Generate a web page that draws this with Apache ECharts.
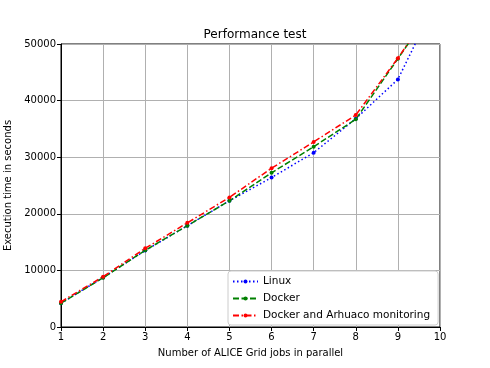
<!DOCTYPE html>
<html>
<head>
<meta charset="utf-8">
<script src="https://cdn.jsdelivr.net/npm/echarts@6/dist/echarts.min.js"></script>
<style>
  html, body { margin: 0; padding: 0; background: #fff; }
  #chart { width: 490px; height: 368px; }
</style>
</head>
<body>
<div id="chart"></div>
<script>
// jobs in parallel
const jobs = [1, 2, 3, 4, 5, 6, 7, 8, 9, 10];
// execution time in seconds
const linux = [4200, 8750, 13500, 17900, 22300, 26400, 30800, 36800, 43750, 59000];
const docker = [4200, 8700, 13550, 17900, 22300, 27250, 31850, 36700, 47400, 58200];
const arhuaco = [4450, 8900, 13900, 18400, 22900, 28050, 32700, 37450, 47500, 58300];

const font = "DejaVu Sans";
const myChart = echarts.init(document.getElementById("chart"));

function makeSeries(name, data, color, dash) {
  return {
    name: name,
    type: "line",
    data: jobs.map((j, i) => [j, data[i]]),
    symbol: "circle",
    symbolSize: 4,
    clip: true,
    itemStyle: { color: color },
    lineStyle: { color: color, width: 1.5, type: dash },
  };
}

const option = {
  backgroundColor: "#fff",
  animation: false,
  title: {
    text: "Performance test",
    left: 250,
    textAlign: "center",
    top: 24,
    textStyle: { fontFamily: font, fontSize: 12, fontWeight: "normal", color: "#000" },
  },
  grid: {
    left: 61, right: 50, top: 44, bottom: 41,
    outerBoundsMode: "none",
    containLabel: false,
    show: true, borderColor: "#000", borderWidth: 1,
  },
  legend: {
    orient: "vertical",
    left: 228, top: 271,
    padding: [5, 8, 4, 4],
    itemGap: 6,
    itemWidth: 25,
    itemHeight: 5,
    backgroundColor: "#fff",
    borderColor: "#ccc",
    borderWidth: 1,
    borderRadius: 3,
    textStyle: { fontFamily: font, fontSize: 10.5, color: "#000" },
    data: ["Linux", "Docker", "Docker and Arhuaco monitoring"],
  },
  xAxis: {
    type: "value",
    min: 1, max: 10, interval: 1,
    name: "Number of ALICE Grid jobs in parallel",
    nameLocation: "middle",
    nameGap: 21,
    nameTextStyle: { fontFamily: font, fontSize: 10, color: "#000" },
    axisLine: { lineStyle: { color: "#000" } },
    axisTick: { inside: false, length: 4, lineStyle: { color: "#000" } },
    axisLabel: { fontFamily: font, fontSize: 10, color: "#000", margin: 5 },
    splitLine: { show: true, lineStyle: { color: "#b0b0b0", width: 1 } },
  },
  yAxis: {
    type: "value",
    min: 0, max: 50000, interval: 10000,
    name: "Execution time in seconds",
    nameLocation: "middle",
    nameGap: 45,
    nameTextStyle: { fontFamily: font, fontSize: 10, color: "#000" },
    axisLine: { show: true, lineStyle: { color: "#000" } },
    axisTick: { show: true, inside: false, length: 4, lineStyle: { color: "#000" } },
    axisLabel: { fontFamily: font, fontSize: 10, color: "#000", margin: 5, formatter: (v) => String(v) },
    splitLine: { show: true, lineStyle: { color: "#b0b0b0", width: 1 } },
  },
  series: [
    makeSeries("Linux", linux, "#0000ff", [1.5, 2.5]),
    makeSeries("Docker", docker, "#008000", [6, 2.5]),
    makeSeries("Docker and Arhuaco monitoring", arhuaco, "#ff0000", [6, 2.5, 1.5, 2.5]),
  ],
};

option && myChart.setOption(option);
</script>
</body>
</html>
